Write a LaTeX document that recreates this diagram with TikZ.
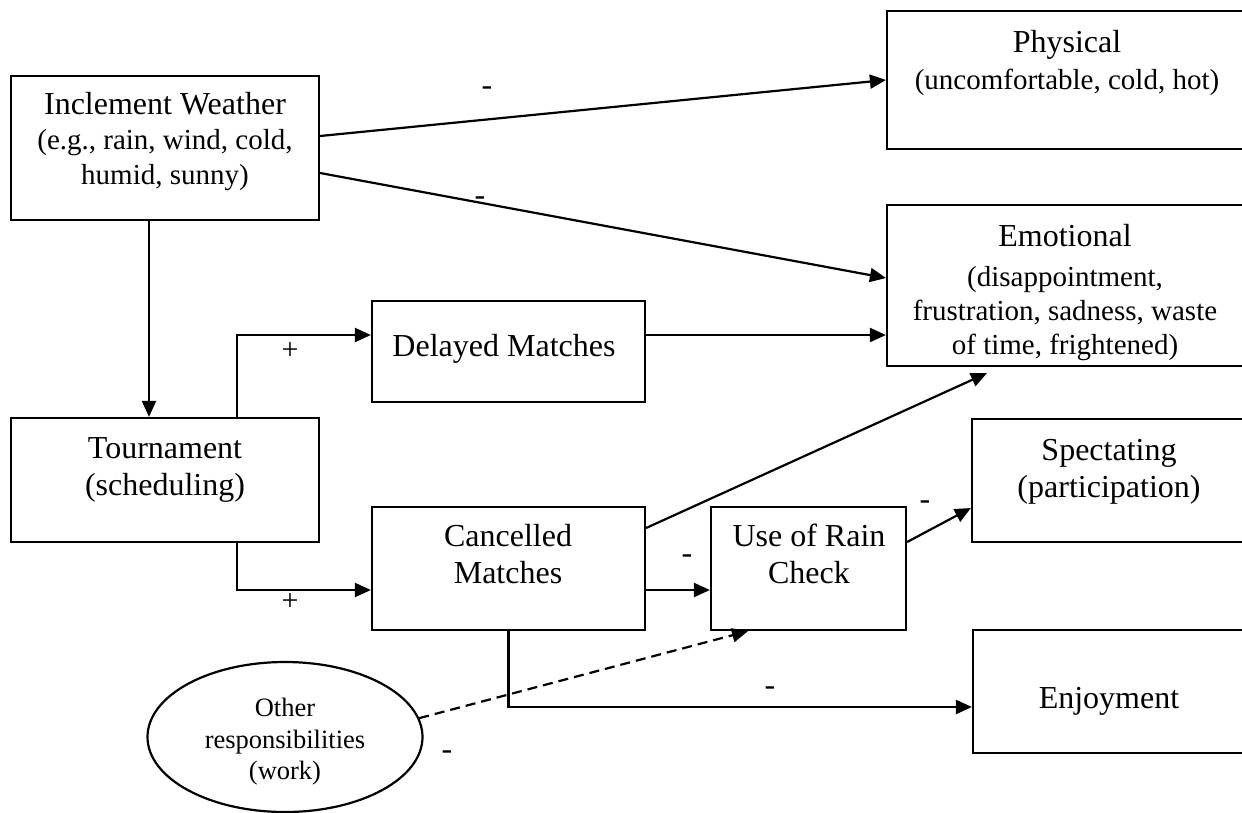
\documentclass[tikz,border=0pt]{standalone}
\usepackage{fontspec}
\setmainfont{Liberation Serif}
\usetikzlibrary{arrows.meta,shapes.geometric}
\newcommand\subsz{\fontsize{29}{34}\selectfont}
\begin{document}
\begin{tikzpicture}[x=1pt,y=-1pt,
  box/.style={draw, line width=2.2pt, rectangle, inner sep=0pt},
  arr/.style={line width=2.2pt, -{Triangle[length=16pt,width=14pt]}},
  txt/.style={align=center, inner sep=0pt, font=\fontsize{32}{37}\selectfont},
  small/.style={align=center, inner sep=0pt, font=\fontsize{26.5}{31.5}\selectfont},
  lbl/.style={inner sep=0pt, font=\fontsize{32}{36}\selectfont},
  plus/.style={inner sep=0pt, font=\fontsize{30}{34}\selectfont}]
\useasboundingbox (0,0) rectangle (1242,812);
\clip (0,0) rectangle (1242,812);
% boxes
\node[box, minimum width=308pt, minimum height=144pt] (iw) at (165,148) {};
\node[box, minimum width=363pt, minimum height=138pt] (phys) at (1068.5,80) {};
\node[box, minimum width=363pt, minimum height=161pt] (emo) at (1068.5,285.5) {};
\node[box, minimum width=273pt, minimum height=101pt] (delay) at (508.5,351.5) {};
\node[box, minimum width=308pt, minimum height=124pt] (tour) at (165,480) {};
\node[box, minimum width=273pt, minimum height=123pt] (canc) at (508.5,568.5) {};
\node[box, minimum width=195pt, minimum height=123pt] (rain) at (808.5,568.5) {};
\node[box, minimum width=278pt, minimum height=123pt] (spect) at (1111,480.5) {};
\node[box, minimum width=277pt, minimum height=123pt] (enjoy) at (1111.5,691.5) {};
\node[draw, ellipse, line width=2.2pt, minimum width=275pt, minimum height=150pt, inner sep=0pt] (oth) at (285,737) {};
% texts
\node[txt, font=\fontsize{32}{35}\selectfont] (iwt) at (165,142) {Inclement Weather\\ \subsz (e.g., rain, wind, cold,\\ \subsz humid, sunny)};
\node[txt] (physt) at (1067,62.5) {Physical\\ \subsz (uncomfortable, cold, hot)};
\node[txt, font=\fontsize{32}{34}\selectfont] (emot) at (1065,293) {Emotional\\[6pt] \subsz (disappointment,\\ \subsz frustration, sadness, waste\\ \subsz of time, frightened)};
\node[txt] (delayt) at (504,349) {Delayed Matches};
\node[txt] (tourt) at (165,470) {Tournament\\ (scheduling)};
\node[txt] (canct) at (508,554) {Cancelled\\ Matches};
\node[txt] (raint) at (809,554) {Use of Rain\\ Check};
\node[txt] (spectt) at (1109,472) {Spectating\\ (participation)};
\node[txt] (enjoyt) at (1109,701) {Enjoyment};
\node[small] (otht) at (285,742) {Other\\ responsibilities\\ (work)};
% connectors
\draw[arr] ([yshift=12pt]iw.east) -- (phys.west);
\draw[arr] ([yshift=-25pt]iw.east) -- ([yshift=7.5pt]emo.west);
\draw[arr] ([xshift=-16pt]iw.south) -- ([xshift=-16pt]tour.north);
\draw[arr] ([xshift=72pt]tour.north) |- ([yshift=16.5pt]delay.west);
\draw[arr] ([xshift=72pt]tour.south) |- ([yshift=-21.5pt]canc.west);
\draw[arr] ([yshift=16.5pt]delay.east) -- ([yshift=-49.5pt]emo.west);
\draw[arr] ([yshift=40.5pt]canc.east) -- ([xshift=-81.5pt,yshift=-6pt]emo.south);
\draw[arr] ([yshift=-21.5pt]canc.east) -- ([yshift=-21.5pt]rain.west);
\draw[arr] ([yshift=26.5pt]rain.east) -- ([yshift=-27.5pt]spect.west);
\draw[arr] (canc.south) |- ([yshift=-15.5pt]enjoy.west);
\draw[arr, dash pattern=on 10pt off 6pt] (oth.8) -- ([xshift=-60.5pt]rain.south);
% labels
\node[lbl] (m1) at (487,91) {-};
\node[lbl] (m2) at (480,201) {-};
\node[plus] (p1) at (290,351) {+};
\node[plus] (p2) at (290,602) {+};
\node[lbl] (m3) at (687,559) {-};
\node[lbl] (m4) at (925,505) {-};
\node[lbl] (m5) at (770,691) {-};
\node[lbl] (m6) at (447,755) {-};
\end{tikzpicture}
\end{document}
